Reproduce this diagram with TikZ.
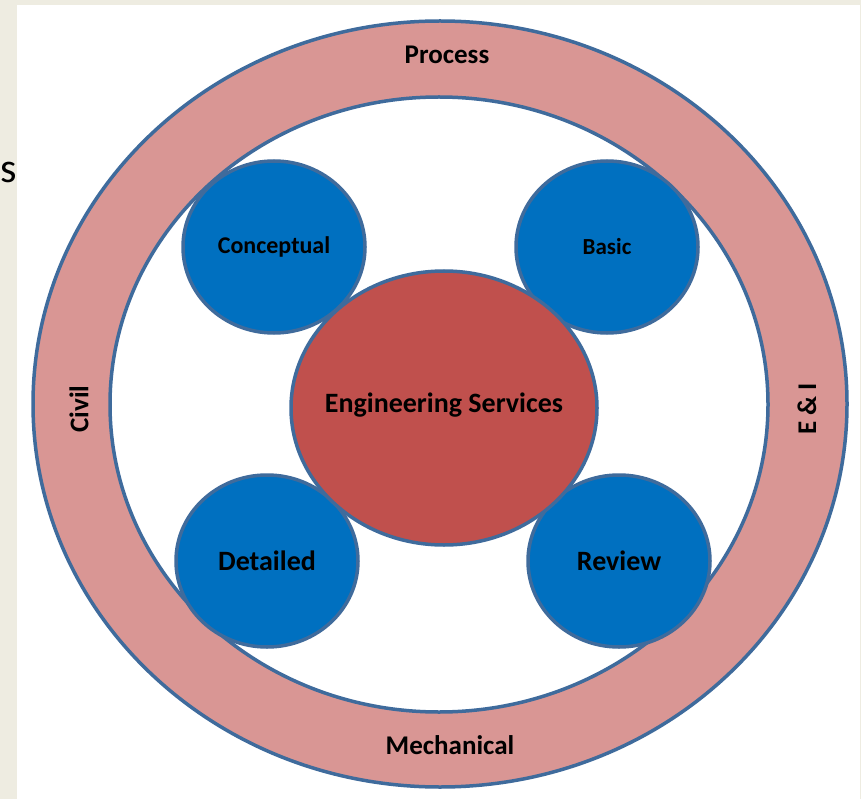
\documentclass[tikz,border=0pt]{standalone}
\usepackage{fontspec}
\setmainfont{Carlito}
\usetikzlibrary{shapes.geometric}
\definecolor{slidebg}{HTML}{EEECE1}
\definecolor{ringpink}{HTML}{D99694}
\definecolor{corered}{HTML}{C0504D}
\definecolor{phaseblue}{HTML}{0070C0}
\definecolor{edgeblue}{HTML}{3F6B9C}
\begin{document}
\begin{tikzpicture}[x=1pt,y=-1pt,
ring/.style={draw=edgeblue,line width=3.5pt,fill=ringpink,even odd rule},
phase/.style={ellipse,draw=edgeblue,line width=3.5pt,fill=phaseblue,inner sep=0pt,
minimum width=182pt,minimum height=172pt,font=\fontsize{28}{30}\selectfont\bfseries},
core/.style={ellipse,draw=edgeblue,line width=3.5pt,fill=corered,inner sep=0pt,
minimum width=306pt,minimum height=274pt,font=\fontsize{28}{30}\selectfont\bfseries},
discipline/.style={font=\fontsize{27}{30}\selectfont\bfseries,inner sep=0pt}]
\useasboundingbox (0,0) rectangle (861,799);
\fill[slidebg] (0,0) rectangle (861,799);
\fill[white] (17,5) rectangle (860,799);
\node[font=\fontsize{42}{44}\selectfont,anchor=west,inner sep=0pt] (cut) at (0,172) {s};
\draw[ring] (440,404) ellipse [x radius=407,y radius=383]
(439,404.5) ellipse [x radius=329,y radius=307.5];
\node[discipline] (process) at (447,55) {Process};
\node[discipline] (mechanical) at (450,745) {Mechanical};
\node[discipline,rotate=90] (civil) at (79,409) {Civil};
\node[discipline,rotate=90] (eni) at (807,409) {E \& I};
\node[phase,font=\fontsize{24}{26}\selectfont\bfseries] (conceptual) at (274,247) {\makebox[0pt]{Conceptual}};
\node[phase,font=\fontsize{23}{26}\selectfont\bfseries] (basic) at (607,247) {\makebox[0pt]{Basic}};
\node[phase] (detailed) at (267,561) {\makebox[0pt]{Detailed}};
\node[phase] (review) at (619,561) {\makebox[0pt]{Review}};
\node[core] (services) at (444,408) {\raisebox{10pt}{\makebox[0pt]{Engineering Services}}};
\end{tikzpicture}
\end{document}
